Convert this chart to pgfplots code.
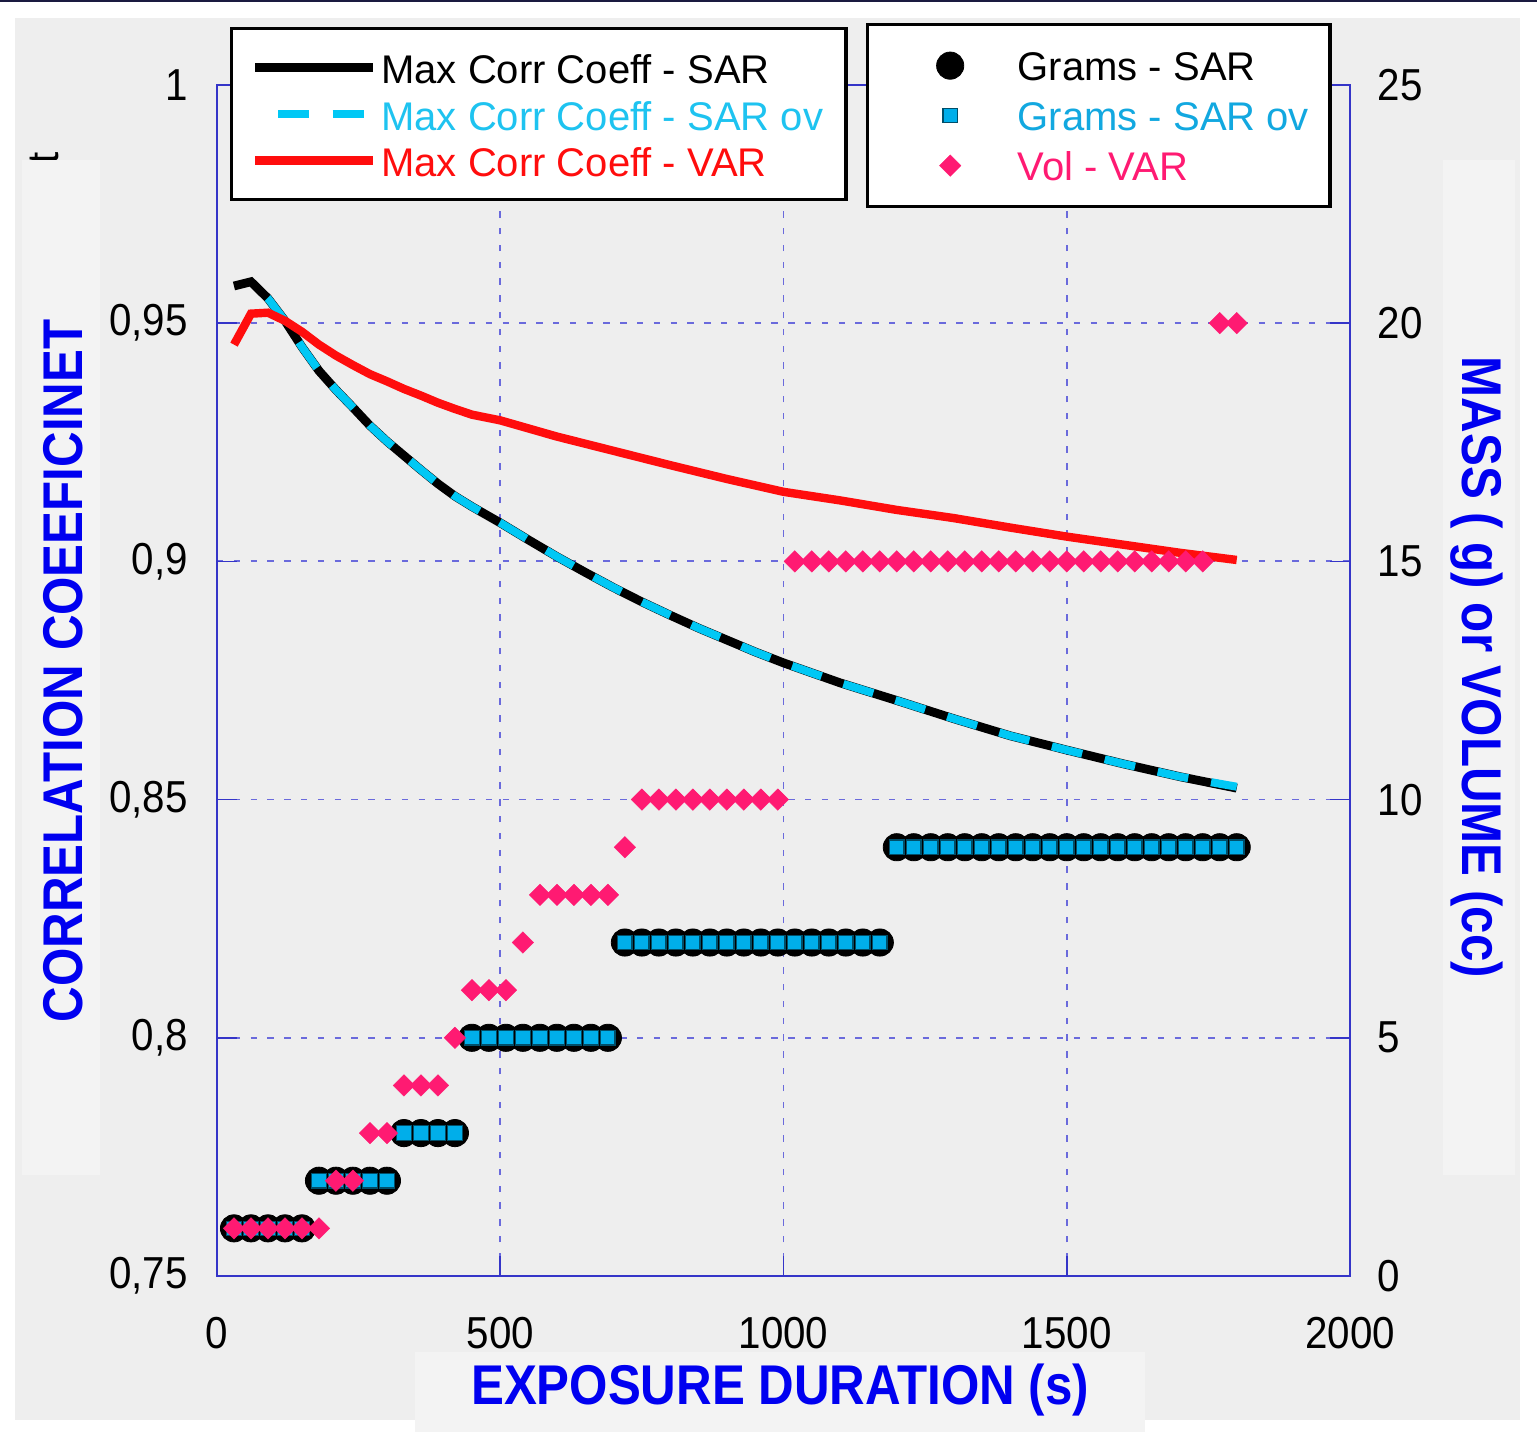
\documentclass[border=0pt]{standalone}
\usepackage{fontspec}
\setmainfont{Liberation Sans}
\usepackage{pgfplots}
\usepackage{pgfplotstable}
\pgfplotsset{compat=1.18}

\definecolor{bggray}{HTML}{EEEEEE}
\definecolor{patch}{HTML}{F3F3F3}
\definecolor{framecol}{HTML}{3434C8}
\definecolor{gridcol}{HTML}{6A6ADC}
\definecolor{lblue}{HTML}{0000F0}
\definecolor{cyanline}{HTML}{00C8F5}
\definecolor{cyantext}{HTML}{1EC3F0}
\definecolor{sqfill}{HTML}{00AEEA}
\definecolor{sqtext}{HTML}{12A8E0}
\definecolor{redline}{HTML}{FF0D0D}
\definecolor{pink}{HTML}{FF1A72}
\definecolor{topline}{HTML}{1A1A40}

% grams (SAR and SAR ov share the same steps)
\pgfplotstableread{
t g
30 1
60 1
90 1
120 1
150 1
180 2
210 2
240 2
270 2
300 2
330 3
360 3
390 3
420 3
450 5
480 5
510 5
540 5
570 5
600 5
630 5
660 5
690 5
720 7
750 7
780 7
810 7
840 7
870 7
900 7
930 7
960 7
990 7
1020 7
1050 7
1080 7
1110 7
1140 7
1170 7
1200 9
1230 9
1260 9
1290 9
1320 9
1350 9
1380 9
1410 9
1440 9
1470 9
1500 9
1530 9
1560 9
1590 9
1620 9
1650 9
1680 9
1710 9
1740 9
1770 9
1800 9
}\gramsdata

\pgfplotstableread{
t v
30 1
60 1
90 1
120 1
150 1
180 1
210 2
240 2
270 3
300 3
330 4
360 4
390 4
420 5
450 6
480 6
510 6
540 7
570 8
600 8
630 8
660 8
690 8
720 9
750 10
780 10
810 10
840 10
870 10
900 10
930 10
960 10
990 10
1020 15
1050 15
1080 15
1110 15
1140 15
1170 15
1200 15
1230 15
1260 15
1290 15
1320 15
1350 15
1380 15
1410 15
1440 15
1470 15
1500 15
1530 15
1560 15
1590 15
1620 15
1650 15
1680 15
1710 15
1740 15
1770 20
1800 20
}\voldata

\pgfplotstableread{
t c
30 0.9578
60 0.9587
90 0.9552
120 0.9505
150 0.9450
180 0.9400
210 0.9360
240 0.9323
270 0.9285
300 0.9252
330 0.9222
360 0.9192
390 0.9163
420 0.9137
450 0.9115
500 0.9081
550 0.9045
600 0.9010
650 0.8977
700 0.8945
750 0.8915
800 0.8887
850 0.8860
900 0.8835
950 0.8810
1000 0.8787
1100 0.8745
1200 0.8708
1300 0.8670
1400 0.8634
1500 0.8604
1600 0.8575
1700 0.8548
1800 0.8524
}\sardata

\pgfplotstableread{
t c
60 0.9587
90 0.9552
120 0.9505
150 0.9450
180 0.9400
210 0.9360
240 0.9323
270 0.9285
300 0.9252
330 0.9222
360 0.9192
390 0.9163
420 0.9137
450 0.9115
500 0.9081
550 0.9045
600 0.9010
650 0.8977
700 0.8945
750 0.8915
800 0.8887
850 0.8860
900 0.8835
950 0.8810
1000 0.8787
1100 0.8745
1200 0.8708
1300 0.8670
1400 0.8634
1500 0.8604
1600 0.8575
1700 0.8548
1800 0.8527
}\sarovdata

\pgfplotstableread{
t c
30 0.9455
60 0.9520
90 0.9522
120 0.9505
150 0.9482
180 0.9455
210 0.9432
240 0.9412
270 0.9393
300 0.9378
330 0.9362
360 0.9348
390 0.9333
420 0.9320
450 0.9308
500 0.9296
600 0.9262
700 0.9232
800 0.9202
900 0.9173
1000 0.9146
1100 0.9128
1200 0.9108
1300 0.9091
1400 0.9071
1500 0.9052
1600 0.9035
1700 0.9018
1800 0.9003
}\vardata

\begin{document}
\begin{tikzpicture}
% page background (1 px of the reference = 0.25pt)
\fill[white] (-54.25pt,-39pt) rectangle (330pt,319pt);
\fill[bggray] (-50.5pt,-36pt) rectangle (325.75pt,314.5pt);
\fill[topline] (-54.25pt,318.5pt) rectangle (330pt,319pt);
\node[rotate=90, font=\fontsize{11}{11}\selectfont, inner sep=0pt] at (-43.25pt,279.5pt) {t};
\fill[patch] (-48.75pt,25.25pt) rectangle (-29.25pt,279pt);
\fill[patch] (306.5pt,25.25pt) rectangle (324.5pt,279pt);
\fill[patch] (49.5pt,-39pt) rectangle (232pt,-19pt);

\begin{axis}[
    scale only axis,
    width=283.25pt, height=297.75pt,
    xmin=0, xmax=2000, ymin=0.75, ymax=1,
    xtick={0,500,1000,1500,2000},
    ytick={0.75,0.8,0.85,0.9,0.95,1},
    tick pos=left,
    tick align=inside,
    major tick length=5pt,
    axis line style={framecol, line width=0.4pt},
    every tick/.style={framecol, line width=0.4pt},
    grid=major,
    major grid style={gridcol, line width=0.45pt, dash pattern=on 1.6pt off 2.6pt},
    /pgf/number format/assume math mode=true,
    /pgf/number format/use comma,
    /pgf/number format/1000 sep={},
    tick label style={font=\fontsize{11.2}{12}\selectfont, xscale=0.9},
    yticklabel style={xshift=-4.6pt},
    xticklabel style={yshift=-6.8pt},
    xlabel={\scalebox{0.88}[1]{EXPOSURE DURATION (s)}},
    ylabel={\scalebox{0.88}[1]{CORRELATION COEEFICINET}},
    every axis x label/.style={at={(axis description cs:0.497,0)}, anchor=center, yshift=-28.5pt},
    every axis y label/.style={at={(axis description cs:0,0.508)}, anchor=center, xshift=-38.5pt, rotate=90},
    label style={text=lblue, font=\fontsize{14}{14}\selectfont\bfseries},
    legend cell align=left,
    legend image code/.code={\draw[#1] (0pt,0pt) -- (29.5pt,0pt);},
    legend style={at={(axis description cs:0.0115,1.0487)}, anchor=north west,
        draw=black, line width=0.8pt, fill=white,
        inner xsep=4.75pt, inner ysep=4pt, row sep=0pt,
        font=\fontsize{10}{12}\selectfont,
        nodes={inner sep=1pt, text height=8.8pt, text depth=0.8pt}},
]
\addplot[black, line width=2.2pt] table[x=t, y=c] {\sardata};
\addlegendentry{Max Corr Coeff - SAR}
\addplot[cyanline, line width=2pt, dash pattern=on 7.8pt off 5.8pt, dash phase=7.8pt] table[x=t, y=c] {\sarovdata};
\addlegendentry{\textcolor{cyantext}{Max Corr Coeff - SAR ov}}
\addplot[redline, line width=2.1pt] table[x=t, y=c] {\vardata};
\addlegendentry{\textcolor{redline}{Max Corr Coeff - VAR}}
\end{axis}

\begin{axis}[
    scale only axis,
    width=283.25pt, height=297.75pt,
    xmin=0, xmax=2000, ymin=0, ymax=25,
    axis x line=none,
    axis y line*=right,
    ytick={0,5,10,15,20,25},
    tick align=inside,
    major tick length=5pt,
    axis line style={framecol, line width=0.4pt},
    every tick/.style={framecol, line width=0.4pt},
    /pgf/number format/assume math mode=true,
    tick label style={font=\fontsize{11.2}{12}\selectfont, xscale=0.9},
    yticklabel style={xshift=4.2pt},
    ylabel={\scalebox{0.88}[1]{MASS ( g) or VOLUME (cc)}},
    every axis y label/.style={at={(axis description cs:1,0.511)}, anchor=center, xshift=31.75pt, rotate=-90},
    label style={text=lblue, font=\fontsize{14}{14}\selectfont\bfseries},
    legend cell align=left,
    legend image code/.code={\path (0pt,0pt) (25pt,0pt);
        \draw[mark repeat=2,mark phase=2,#1] plot coordinates {(8pt,0pt) (16pt,0pt) (24pt,0pt)};},
    legend style={at={(axis description cs:0.5728,1.052)}, anchor=north west,
        draw=black, line width=0.8pt, fill=white,
        inner xsep=4.25pt, inner ysep=4pt, row sep=0pt,
        font=\fontsize{10}{12}\selectfont,
        nodes={inner sep=1pt, text height=9.05pt, text depth=1.45pt},
        /tikz/every odd column/.style={column sep=6.5pt}},
]
\addplot[black, only marks, mark=*, mark size=3.4pt, mark options={draw=black, fill=black, line width=0.2pt}] table[x=t, y=g] {\gramsdata};
\addlegendentry{Grams - SAR}
\addplot[sqfill, only marks, mark=square*, mark size=1.8pt, mark options={draw=black!55!sqfill, fill=sqfill, line width=0.3pt}] table[x=t, y=g] {\gramsdata};
\addlegendentry{\textcolor{sqtext}{Grams - SAR ov}}
\addplot[pink, only marks, mark=square*, mark size=1.9pt, mark options={draw=pink, fill=pink, line width=0.1pt, rotate=45}] table[x=t, y=v] {\voldata};
\addlegendentry{\textcolor{pink}{Vol - VAR}}
\end{axis}

\pgfresetboundingbox
\path[use as bounding box] (-54.25pt,-39pt) rectangle (330pt,319pt);
\end{tikzpicture}
\end{document}
